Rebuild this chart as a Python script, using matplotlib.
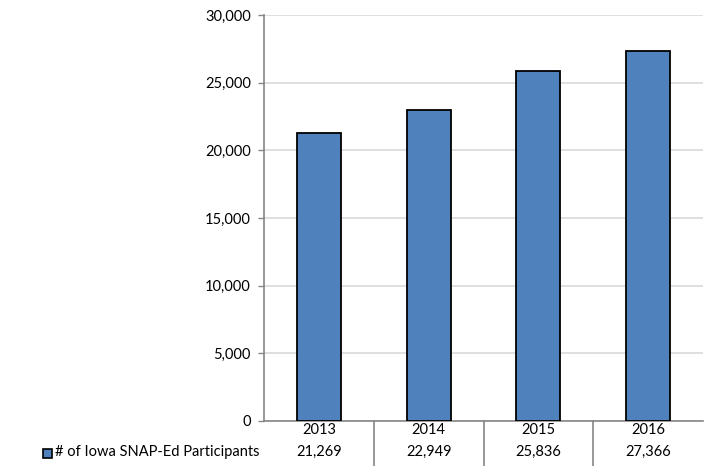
import matplotlib.pyplot as plt
import matplotlib.transforms as mtransforms
import numpy as np

plt.rcParams['font.family'] = ['Lato', 'DejaVu Sans']

years = ['2013', '2014', '2015', '2016']
participants = [21269, 22949, 25836, 27366]
series_name = '# of Iowa SNAP-Ed Participants'
yticks = [0, 5000, 10000, 15000, 20000, 25000, 30000]

fig = plt.figure(figsize=(7.11, 4.66), dpi=100)
ax = fig.add_axes([264 / 711, 1 - 421 / 466, (703 - 264) / 711, (421 - 15) / 466])

x = np.arange(len(years))
ax.bar(x, participants, width=0.4, color='#4f81bd', edgecolor='black', linewidth=1.3, zorder=3)

ax.set_xlim(-0.5, len(years) - 0.5)
ax.set_ylim(0, 30000)
ax.set_yticks(yticks)
ax.set_yticklabels([f'{v:,}' for v in yticks], fontsize=10.5)
ax.yaxis.grid(True, color='#d9d9d9', linewidth=1.2, zorder=0)
ax.set_xticks([])
ax.tick_params(axis='y', length=4.5, width=1, color='#868686', pad=5)

for side in ['top', 'right']:
    ax.spines[side].set_visible(False)
for side in ['left', 'bottom']:
    ax.spines[side].set_color('#868686')
    ax.spines[side].set_linewidth(1.2)

# data table under the axis
trans = mtransforms.blended_transform_factory(ax.transData, fig.transFigure)
row1 = 1 - 430 / 466
row2 = 1 - 452 / 466
for i in range(len(years)):
    ax.text(i, row1, years[i], transform=trans, ha='center', va='center', fontsize=10.5)
    ax.text(i, row2, f'{participants[i]:,}', transform=trans, ha='center', va='center', fontsize=10.5)
for b in np.arange(0.5, len(years) - 0.5, 1):
    ax.plot([b, b], [1 - 421 / 466, 0], transform=trans, color='#868686', linewidth=1.2, clip_on=False)

# legend key in the table
fig.text(55 / 711, row2, series_name, ha='left', va='center', fontsize=10.5)
fig.patches.append(plt.Rectangle((43 / 711, 1 - 458 / 466), 9 / 711, 9 / 466,
                                 transform=fig.transFigure, facecolor='#4f81bd',
                                 edgecolor='black', linewidth=1.2))

fig.savefig('out.png', dpi=100)
